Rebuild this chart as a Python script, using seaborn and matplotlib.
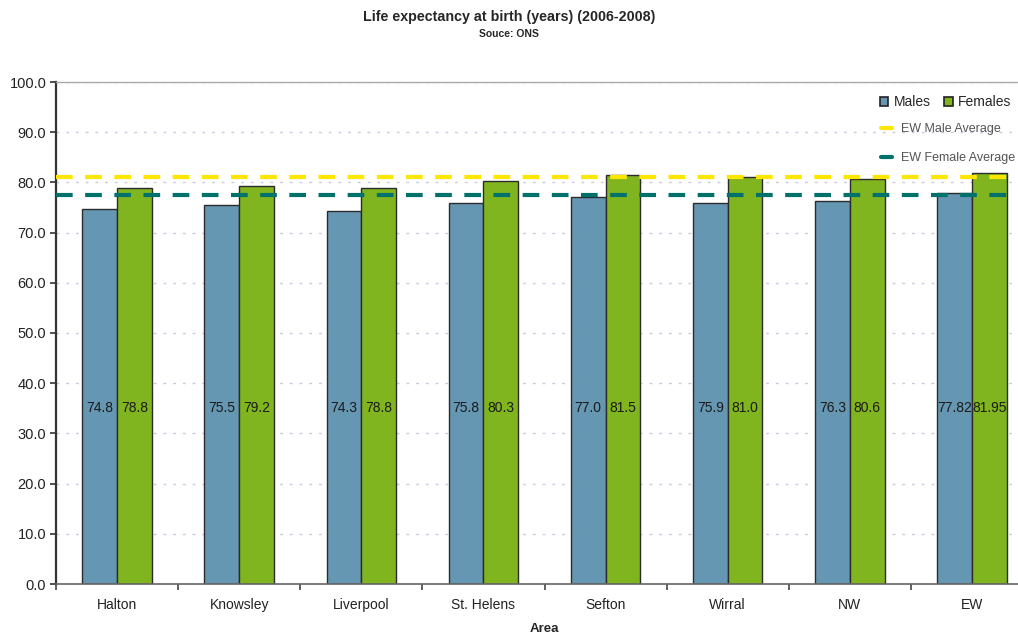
import matplotlib
matplotlib.use("Agg")
import matplotlib.pyplot as plt
from matplotlib.lines import Line2D
from matplotlib.patches import Patch
import numpy as np
import pandas as pd
import seaborn as sns

# Life expectancy at birth, 2006-2008
areas = ["Halton", "Knowsley", "Liverpool", "St. Helens", "Sefton", "Wirral", "NW", "EW"]
males = [74.8, 75.5, 74.3, 75.8, 77.0, 75.9, 76.3, 77.82]
females = [78.8, 79.2, 78.8, 80.3, 81.5, 81.0, 80.6, 81.95]
male_labels = ["74.8", "75.5", "74.3", "75.8", "77.0", "75.9", "76.3", "77.82"]
female_labels = ["78.8", "79.2", "78.8", "80.3", "81.5", "81.0", "80.6", "81.95"]
ew_male_avg = 81.0
ew_female_avg = 77.5
yticks = [0, 10, 20, 30, 40, 50, 60, 70, 80, 90, 100]

male_color = "#6596B2"
female_color = "#80B51F"
yellow = "#FFE600"
teal = "#00716B"

df = pd.DataFrame({
    "Area": areas * 2,
    "Sex": ["Males"] * len(areas) + ["Females"] * len(areas),
    "Value": males + females,
})

sns.set_style("white")
plt.rcParams["font.family"] = ["Liberation Sans", "DejaVu Sans"]

fig = plt.figure(figsize=(10.18, 6.33), dpi=100)
ax = fig.add_axes([56 / 1018, 49 / 633, 977 / 1018, 502 / 633])

sns.barplot(data=df, x="Area", y="Value", hue="Sex", order=areas,
            hue_order=["Males", "Females"],
            palette={"Males": male_color, "Females": female_color},
            width=0.57, edgecolor="#2b2b2b", linewidth=1.0, saturation=1,
            errorbar=None, legend=False, ax=ax, zorder=2)

ax.set_xlim(-0.5, len(areas) - 0.5)
ax.set_ylim(0, 100)
ax.set_yticks(yticks)
ax.set_yticklabels([f"{v:.1f}" for v in yticks], fontsize=10.5, color="#222222")
ax.yaxis.grid(True, linestyle=(0, (2, 5)), color="#C9C9E2", linewidth=1.0, zorder=0)
ax.xaxis.grid(False)
ax.set_axisbelow(True)

# value labels inside the bars
for cont, labels in zip(ax.containers, [male_labels, female_labels]):
    for rect, lab in zip(cont, labels):
        ax.text(rect.get_x() + rect.get_width() / 2, 35, lab,
                ha="center", va="center", fontsize=10, color="#1a1a1a", zorder=5)

# England & Wales average lines
ax.axhline(ew_male_avg, color=yellow, linestyle=(0, (4, 3)), linewidth=3, zorder=4)
ax.axhline(ew_female_avg, color=teal, linestyle=(0, (4, 3)), linewidth=3, zorder=4)

# axes frame
ax.spines["left"].set_color("#333333")
ax.spines["left"].set_linewidth(1.6)
ax.spines["bottom"].set_color("#666666")
ax.spines["bottom"].set_linewidth(1.2)
ax.spines["top"].set_color("#AAAAAA")
ax.spines["top"].set_linewidth(1.0)
ax.spines["right"].set_visible(False)

ax.tick_params(axis="y", which="major", direction="out", length=4, width=1.2,
               color="#333333", left=True, pad=3)
ax.tick_params(axis="x", which="major", length=0, labelsize=10, labelcolor="#222222", pad=10)
ax.set_xticks(np.arange(len(areas) + 1) - 0.5, minor=True)
ax.tick_params(axis="x", which="minor", direction="out", length=4, width=1.2,
               color="#444444", bottom=True)

ax.set_xlabel("Area", fontsize=9.5, fontweight="bold", labelpad=8)
ax.set_ylabel("")

fig.text(0.5, 1 - 17 / 633, "Life expectancy at birth (years) (2006-2008)",
         ha="center", va="center", fontsize=10.3, fontweight="bold")
fig.text(0.5, 1 - 34 / 633, "Souce: ONS",
         ha="center", va="center", fontsize=7.5, fontweight="bold")

# legends
bar_handles = [Patch(facecolor=male_color, edgecolor="#222222", linewidth=1.2),
               Patch(facecolor=female_color, edgecolor="#222222", linewidth=1.2)]
leg1 = ax.legend(bar_handles, ["Males", "Females"], ncol=2, frameon=False,
                 loc="upper left", bbox_to_anchor=((874 - 56) / 977, 0.985),
                 handlelength=0.6, handleheight=0.6, handletextpad=0.4,
                 columnspacing=1.0, fontsize=10, borderaxespad=0)
ax.add_artist(leg1)
line_handles = [Line2D([], [], color=yellow, linewidth=3),
                Line2D([], [], color=teal, linewidth=3)]
leg2 = ax.legend(line_handles, ["EW Male Average", "EW Female Average"], frameon=False,
                 loc="upper left", bbox_to_anchor=((876 - 56) / 977, 0.928),
                 handlelength=0.9, handletextpad=0.7, labelspacing=1.35,
                 fontsize=9, labelcolor="#555555", borderaxespad=0)

fig.savefig("out.png", dpi=100)
